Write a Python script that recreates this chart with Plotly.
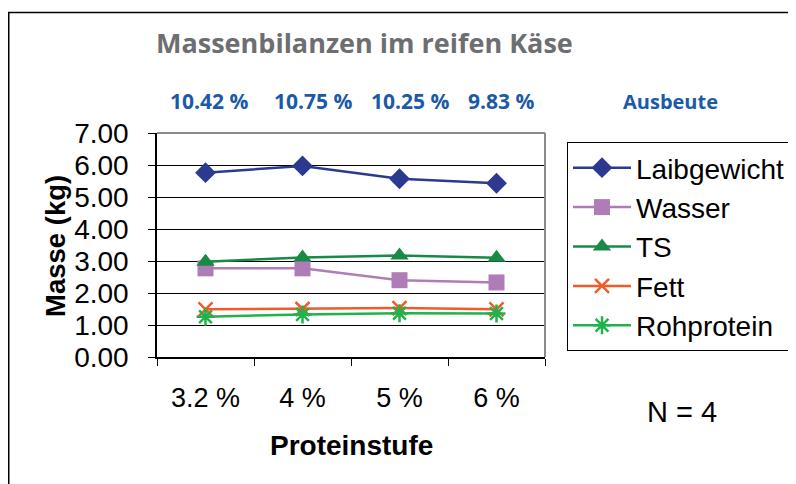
import plotly.graph_objects as go

categories = ["3.2 %", "4 %", "5 %", "6 %"]
laibgewicht = [5.76, 5.97, 5.57, 5.43]
wasser = [2.77, 2.77, 2.40, 2.33]
ts = [2.98, 3.11, 3.17, 3.10]
fett = [1.49, 1.50, 1.53, 1.49]
rohprotein = [1.26, 1.33, 1.37, 1.36]
ausbeute = ["10.42 %", "10.75 %", "10.25 %", "9.83 %"]
y_ticks = [0, 1, 2, 3, 4, 5, 6, 7]

OFF = 8  # page body margin
W, H = 796 - OFF, 484 - OFF
# plot area in page px
PL, PR, PT, PB = 157, 545, 133, 357
L, R, T, B = PL - OFF, PR - OFF, PT - OFF, PB - OFF


def px(x):
    """page x pixel -> paper coordinate"""
    return (x - PL) / (PR - PL)


def py(y):
    """page y pixel -> paper coordinate"""
    return (PB - y) / (PB - PT)


series = [
    ("Laibgewicht", laibgewicht, "#2b3990", dict(symbol="diamond", size=16, color="#2b3990")),
    ("Wasser", wasser, "#b07cb8", dict(symbol="square", size=16, color="#b07cb8")),
    ("TS", ts, "#188a45", dict(symbol="triangle-up", size=16, color="#188a45")),
    ("Fett", fett, "#f15a29", dict(symbol="x-thin", size=14, color="#f15a29",
                                   line=dict(color="#f15a29", width=2.5))),
    ("Rohprotein", rohprotein, "#1fb34b", dict(symbol="asterisk", size=15, color="#1fb34b",
                                               line=dict(color="#1fb34b", width=2.5))),
]

fig = go.Figure()
for i, (name, vals, col, mk) in enumerate(series):
    fig.add_trace(go.Scatter(
        x=categories, y=vals, name=name, mode="lines+markers",
        line=dict(color=col, width=2.5), marker=mk, legendgroup=f"g{i}",
        cliponaxis=False,
    ))

font_main = "Liberation Sans, Arial, sans-serif"

fig.update_layout(
    width=W, height=H,
    margin=dict(l=L, r=W - R, t=T, b=H - B, pad=0, autoexpand=False),
    paper_bgcolor="white", plot_bgcolor="white",
    showlegend=True,
    legend=dict(
        x=px(567), y=py(142), xanchor="left", yanchor="top",
        bordercolor="black", borderwidth=1, bgcolor="white",
        font=dict(family=font_main, size=28, color="black"),
        tracegroupgap=0, itemwidth=58,
    ),
    xaxis=dict(
        type="category", range=[-0.5, 3.5], automargin=False,
        showline=True, linecolor="black", linewidth=1.5,
        ticks="outside", ticklen=7, tickcolor="black", tickson="boundaries",
        tickfont=dict(family=font_main, size=27, color="black"),
        ticklabelstandoff=16, showgrid=False, zeroline=False,
    ),
    yaxis=dict(
        range=[0, 7], tickvals=y_ticks, tickformat=".2f", automargin=False,
        showline=True, linecolor="black", linewidth=1.5,
        ticks="outside", ticklen=7, tickcolor="black",
        tickfont=dict(family=font_main, size=28, color="black"),
        ticklabelstandoff=14,
        showgrid=True, gridcolor="black", gridwidth=1, zeroline=False,
    ),
)

# plot-area frame top/right (grey) and outer chart border
fig.add_shape(type="line", xref="paper", yref="paper", x0=0, x1=1, y0=1, y1=1,
              line=dict(color="#8a8a8a", width=2))
fig.add_shape(type="line", xref="paper", yref="paper", x0=1, x1=1, y0=0, y1=1,
              line=dict(color="#8a8a8a", width=2))
fig.add_shape(type="rect", xref="paper", yref="paper",
              x0=px(OFF + 0.75), x1=px(900), y0=py(12.5), y1=py(600),
              line=dict(color="black", width=1.5), layer="below")

# title
fig.add_annotation(text="<b>Massenbilanzen im reifen Käse</b>", xref="paper", yref="paper",
                   x=px(364), y=py(42), showarrow=False, xanchor="center", yanchor="middle",
                   font=dict(family="Open Sans, sans-serif", size=27, color="#6d6e71"))

# yield row
ausbeute_x = [209, 313, 410, 501]
for lbl, xx in zip(ausbeute, ausbeute_x):
    fig.add_annotation(text=f"<b>{lbl}</b>", xref="paper", yref="paper", x=px(xx), y=py(101),
                       showarrow=False, xanchor="center", yanchor="middle",
                       font=dict(family="Open Sans, sans-serif", size=21, color="#1b5aa6"))
fig.add_annotation(text="<b>Ausbeute</b>", xref="paper", yref="paper", x=px(670), y=py(101),
                   showarrow=False, xanchor="center", yanchor="middle",
                   font=dict(family="Open Sans, sans-serif", size=20, color="#1b5aa6"))

# axis titles
fig.add_annotation(text="<b>Masse (kg)</b>", xref="paper", yref="paper", x=px(55), y=py(246),
                   showarrow=False, textangle=-90, xanchor="center", yanchor="middle",
                   font=dict(family=font_main, size=27.5, color="black"))
fig.add_annotation(text="<b>Proteinstufe</b>", xref="paper", yref="paper", x=px(351), y=py(445),
                   showarrow=False, xanchor="center", yanchor="middle",
                   font=dict(family=font_main, size=28, color="black"))
fig.add_annotation(text="N = 4", xref="paper", yref="paper", x=px(682), y=py(412),
                   showarrow=False, xanchor="center", yanchor="middle",
                   font=dict(family=font_main, size=29, color="black"))

fig.write_html("out.html")
